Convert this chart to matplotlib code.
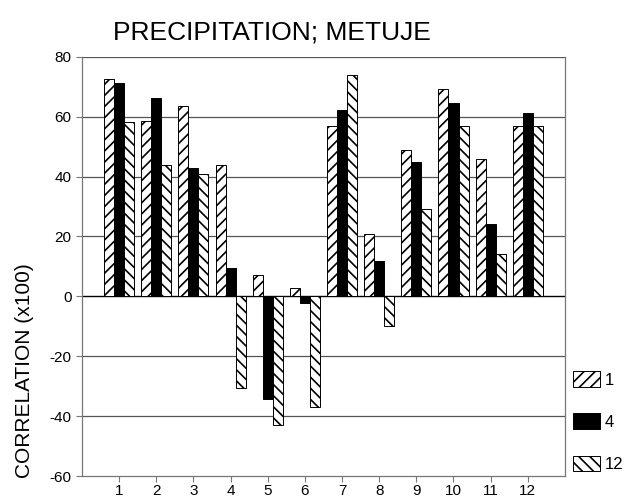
import numpy as np
import matplotlib.pyplot as plt

plt.rcParams['font.family'] = ['Liberation Sans', 'DejaVu Sans']
plt.rcParams['hatch.linewidth'] = 1.2
plt.rcParams['axes.unicode_minus'] = False

months = [str(m) for m in range(1, 13)]
# correlation (x100) for lag 1, 4 and 12
lag1 = [72.7, 58.7, 63.4, 43.7, 7.1, 2.7, 56.7, 20.8, 49.0, 69.3, 46.0, 56.8]
lag4 = [71.2, 66.2, 42.8, 9.5, -34.2, -2.2, 62.3, 11.8, 45.0, 64.7, 24.0, 61.3]
lag12 = [58.1, 43.7, 40.8, -30.7, -42.9, -36.8, 73.8, -10.0, 29.0, 56.8, 14.1, 56.9]
series_names = ['1', '4', '12']

fig = plt.figure(figsize=(6.38, 5.01), dpi=100)
ax = fig.add_axes([0.1285, 0.0499, 0.757, 0.8369])

x = np.arange(1, 13)
w = 0.27
b1 = ax.bar(x - w, lag1, w, facecolor='white', edgecolor='black', linewidth=0.7, hatch='///', zorder=3)
b2 = ax.bar(x, lag4, w, facecolor='black', edgecolor='black', linewidth=0.7, zorder=3)
b3 = ax.bar(x + w, lag12, w, facecolor='white', edgecolor='black', linewidth=0.7, hatch='\\\\\\', zorder=3)

ax.set_xlim(0, 13)
ax.set_ylim(-60, 80)
ax.set_yticks(range(-60, 81, 20))
ax.set_xticks(x)
ax.set_xticklabels(months)
ax.tick_params(axis='both', labelsize=11, color='#777777', length=4)
ax.tick_params(axis='x', pad=2)

for v in range(-40, 81, 20):
    if v == 0:
        ax.axhline(0, color='black', linewidth=1.0, zorder=2)
    else:
        ax.axhline(v, color='#555555', linewidth=0.9, zorder=1)

for side in ['left', 'right', 'bottom']:
    ax.spines[side].set_color('#777777')
    ax.spines[side].set_linewidth(0.9)
ax.spines['top'].set_visible(False)

fig.text(0.177, 0.935, 'PRECIPITATION; METUJE', fontsize=19, va='center', ha='left')
fig.text(0.039, 0.26, 'CORRELATION (x100)', fontsize=15, rotation=90, va='center', ha='center')

ax.legend([b1, b2, b3], series_names, loc='upper left', bbox_to_anchor=(1.002, 0.266),
          frameon=False, fontsize=12, handlelength=1.62, handleheight=1.05,
          labelspacing=1.55, handletextpad=0.3, borderaxespad=0)

plt.savefig('out.png', dpi=100)
